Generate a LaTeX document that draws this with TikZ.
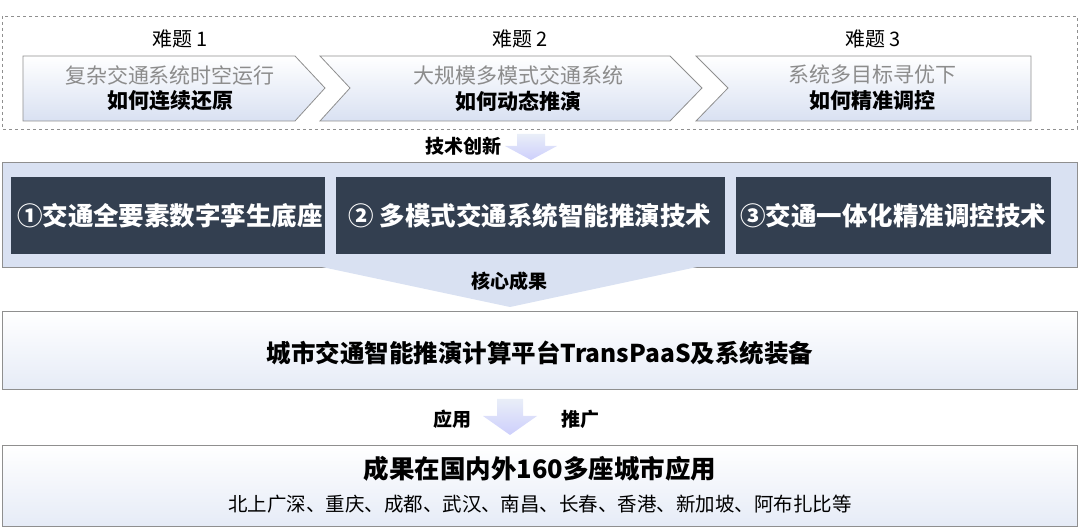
\documentclass[tikz,border=0pt]{standalone}
\usepackage{fontspec}
\setmainfont{Noto Sans CJK SC}
\usetikzlibrary{shapes.arrows}
\definecolor{lb}{HTML}{D9E1F2}
\definecolor{lb2}{HTML}{E9EEF8}
\definecolor{dk}{HTML}{333F50}
\definecolor{gtxt}{HTML}{8C8C8C}
\definecolor{bd}{HTML}{8F8F8F}
\tikzset{
  chev/.style={draw=bd,line width=0.8pt,top color=white,bottom color=lb},
  dkbox/.style={fill=dk,draw=none},
  bigbox/.style={draw=bd,line width=1pt,top color=white,bottom color=lb2!80!lb},
  lbl/.style={font=\fontsize{20}{22}\selectfont},
  gtext/.style={font=\fontsize{21}{23}\selectfont,text=gtxt},
  btext/.style={font=\fontsize{21}{23}\selectfont\bfseries},
  wtext/.style={font=\fontsize{25.5}{27}\selectfont\bfseries,text=white},
  arr/.style={top color=lb2,bottom color=lb!60!blue!40,draw=none},
  sm/.style={font=\fontsize{19}{21}\selectfont\bfseries},
}
\begin{document}
\begin{tikzpicture}[x=1pt,y=-1pt]
\useasboundingbox (0,0) rectangle (1080,529);
% top dashed box
\draw[bd,dashed,line width=0.8pt] (2,16) rectangle (1077,129);
\path[chev] (23,56) -- (295,56) -- (325,88) -- (295,121) -- (23,121) -- cycle;
\path[chev] (320,56) -- (670,56) -- (702,88) -- (670,121) -- (320,121) -- (350,88) -- cycle;
\path[chev] (696,56) -- (1031,56) -- (1031,121) -- (696,121) -- (728,88) -- cycle;
\node[lbl] (h1) at (180,39) {难题 1};
\node[lbl] (h2) at (520,39) {难题 2};
\node[lbl] (h3) at (873,39) {难题 3};
\node[gtext] (g1) at (170,75) {复杂交通系统时空运行};
\node[btext] (b1) at (170,101) {如何连续还原};
\node[gtext] (g2) at (518,75) {大规模多模式交通系统};
\node[btext] (b2) at (518,101) {如何动态推演};
\node[gtext] (g3) at (872,75) {系统多目标寻优下};
\node[btext] (b3) at (872,101) {如何精准调控};
% arrow 1
\path[arr] (517,134) -- (545,134) -- (545,146) -- (557,146) -- (531,160) -- (505,146) -- (517,146) -- cycle;
\node[sm] (t1) at (463,146) {技术创新};
% band
\draw[bd,fill=lb,line width=1pt] (2,163) rectangle (1077,268);
\fill[lb] (322,267) -- (697,267) -- (510,307) -- cycle;
\path[dkbox] (11,177) rectangle (325,254);
\path[dkbox] (336,177) rectangle (725,254);
\path[dkbox] (736,177) rectangle (1051,254);
\node[wtext] (k1) at (170,216) {①交通全要素数字孪生底座};
\node[wtext] (k2) at (530,216) {② 多模式交通系统智能推演技术};
\node[wtext] (k3) at (893,216) {③交通一体化精准调控技术};
\node[sm] (t2) at (509,281) {核心成果};
% box 4
\path[bigbox] (2,312) rectangle (1077,390);
\node[font=\fontsize{24.5}{26}\selectfont\bfseries] (p) at (540,353) {城市交通智能推演计算平台TransPaaS及系统装备};
% arrow 2
\path[arr] (497,399) -- (523,399) -- (523,416) -- (537,416) -- (510,435) -- (483,416) -- (497,416) -- cycle;
\node[sm] (t3) at (452,419) {应用};
\node[sm] (t4) at (580,419) {推广};
% box 5
\path[bigbox] (2,446) rectangle (1077,526);
\node[font=\fontsize{25.5}{27}\selectfont\bfseries] (r1) at (540,469) {成果在国内外160多座城市应用};
\node[font=\fontsize{19.5}{21}\selectfont] (r2) at (540,504) {北上广深、重庆、成都、武汉、南昌、长春、香港、新加坡、阿布扎比等};
\end{tikzpicture}
\end{document}
